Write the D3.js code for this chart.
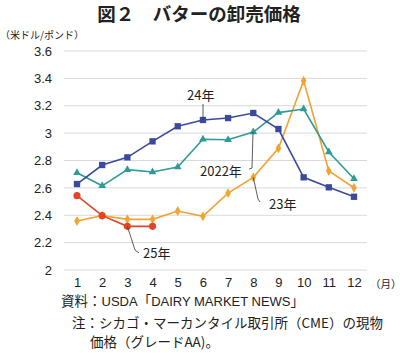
<!DOCTYPE html>
<html><head><meta charset="utf-8">
<script src="https://cdn.jsdelivr.net/npm/d3@7"></script>
<style>
body{margin:0;background:#fff;}
svg{display:block;font-family:"Liberation Sans","Noto Sans CJK JP",sans-serif;}
.jp{font-family:"Noto Sans CJK JP",sans-serif;}
</style></head><body>
<script>
const months = [1,2,3,4,5,6,7,8,9,10,11,12];
const yTicks = [2,2.2,2.4,2.6,2.8,3,3.2,3.4,3.6];
const yTickLabels = ["2","2.2","2.4","2.6","2.8","3","3.2","3.4","3.6"];
const y2022 = [2.71,2.615,2.733,2.716,2.752,2.955,2.952,3.008,3.15,3.176,2.862,2.667];
const y2023 = [2.358,2.397,2.37,2.37,2.431,2.392,2.562,2.677,2.889,3.383,2.723,2.601];
const y2024 = [2.628,2.767,2.823,2.94,3.05,3.096,3.11,3.147,3.03,2.677,2.604,2.535];
const y2025 = [2.543,2.397,2.319,2.319];
const seriesNames = ["2022年","23年","24年","25年"];

const W=400,H=353;
const svg=d3.select("body").append("svg").attr("width",W).attr("height",H);
const x=d3.scalePoint().domain(months).range([77,354]);
const y=d3.scaleLinear().domain([2,3.6]).range([270,51]);

svg.append("text").attr("class","jp").attr("x",199).attr("y",21).attr("text-anchor","middle")
  .attr("font-size",18.5).attr("font-weight","bold").attr("fill","#222").text("図２　バターの卸売価格");
svg.append("text").attr("class","jp").attr("x",0).attr("y",39).attr("font-size",10).attr("fill","#222").text("（米ドル/ポンド）");

// grid
svg.append("g").selectAll("line").data(yTicks).join("line")
  .attr("x1",64).attr("x2",367).attr("y1",d=>y(d)).attr("y2",d=>y(d))
  .attr("stroke","#d9d9d9").attr("stroke-width",1);
// y axis
const ya=svg.append("g").attr("transform","translate(64,0)")
  .call(d3.axisLeft(y).tickValues(yTicks).tickFormat((d,i)=>yTickLabels[i]).tickSize(0).tickPadding(12));
ya.select(".domain").remove();
ya.selectAll("text").attr("font-size",13).attr("fill","#222").attr("font-family","Liberation Sans");
// x axis
const xa=svg.append("g").attr("transform","translate(0,270)")
  .call(d3.axisBottom(x).tickSize(0).tickPadding(8));
xa.select(".domain").remove();
xa.selectAll("text").attr("font-size",13).attr("fill","#222").attr("font-family","Liberation Sans");
svg.append("text").attr("class","jp").attr("x",370).attr("y",288).attr("font-size",10.5).attr("fill","#222").text("（月）");

const line=d3.line().x((d,i)=>x(months[i])).y(d=>y(d));
function drawSeries(data,color,shape,size){
  svg.append("path").datum(data).attr("d",line).attr("fill","none").attr("stroke",color).attr("stroke-width",1.6);
  svg.append("g").selectAll("path").data(data).join("path")
    .attr("transform",(d,i)=>`translate(${x(months[i])},${y(d)})`)
    .attr("d",d3.symbol().type(shape).size(size)).attr("fill",color);
}
drawSeries(y2023,"#f0a431",d3.symbolDiamond,28);
drawSeries(y2022,"#2e9b97",d3.symbolTriangle,26);
drawSeries(y2024,"#3b4a9c",d3.symbolSquare,40);
drawSeries(y2025,"#e0452a",d3.symbolCircle,40);

// labels with leader lines
const lab=svg.append("g").attr("class","jp").attr("font-size",13).attr("fill","#222");
function label(text,tx,ty,pts){
  svg.append("path").attr("d",d3.line()(pts)).attr("fill","none").attr("stroke","#333").attr("stroke-width",0.8);
  lab.append("text").attr("x",tx).attr("y",ty).text(text);
}
label(seriesNames[2],187,100,[[203,104],[203,y(y2024[5])]]);
label(seriesNames[0],200,176,[[249,169],[252,168],[253,y(y2022[7])]]);
label(seriesNames[1],269,209,[[x(8),y(y2023[7])],[258,199],[260,202]]);
label(seriesNames[3],143,258,[[x(3),y(y2025[2])],[135,250],[139,253]]);

const foot=svg.append("g").attr("class","jp").attr("font-size",13.5).attr("fill","#222");
const t1=foot.append("text").attr("x",61).attr("y",306);
t1.append("tspan").text("資料：");
t1.append("tspan").attr("font-family","Liberation Sans").attr("font-size",13).text("USDA");
t1.append("tspan").text("「");
t1.append("tspan").attr("font-family","Liberation Sans").attr("font-size",13).text("DAIRY MARKET NEWS");
t1.append("tspan").text("」");
foot.append("text").attr("x",72).attr("y",328).text("注：シカゴ・マーカンタイル取引所（CME）の現物");
foot.append("text").attr("x",90).attr("y",347).text("価格（グレードAA)。");
</script></body></html>
